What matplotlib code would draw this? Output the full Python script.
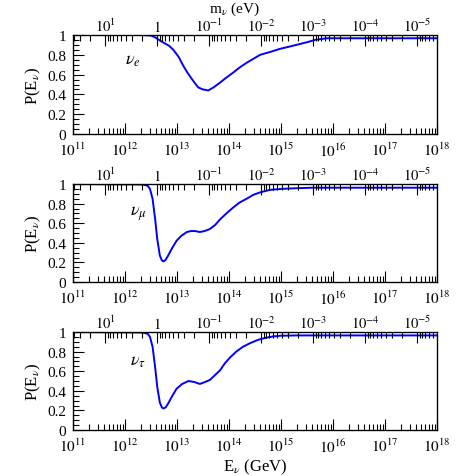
import numpy as np
import matplotlib
matplotlib.use("Agg")
import matplotlib.pyplot as plt
from matplotlib.ticker import FixedLocator, NullFormatter

plt.rcParams['font.family'] = ['Liberation Serif', 'DejaVu Serif']
plt.rcParams['mathtext.fontset'] = 'stix'

# log10(E / GeV) and survival probability for each flavour
loge_e = [11.0, 12.3, 12.5, 12.58, 12.67, 12.75, 12.85, 12.93, 13.03, 13.12, 13.2, 13.28,
          13.35, 13.41, 13.5, 13.6, 13.7, 13.83, 13.95, 14.08, 14.2, 14.34, 14.47, 14.6,
          14.8, 14.98, 15.18, 15.37, 15.52, 15.65, 15.78, 15.88, 18.0]
p_e = [1.0, 1.0, 0.995, 0.975, 0.945, 0.92, 0.89, 0.85, 0.78, 0.69, 0.62, 0.56,
       0.51, 0.47, 0.45, 0.44, 0.47, 0.52, 0.57, 0.62, 0.67, 0.72, 0.76, 0.80,
       0.83, 0.86, 0.885, 0.91, 0.93, 0.95, 0.96, 0.967, 0.967]

loge_mu = [11.0, 12.3, 12.38, 12.44, 12.48, 12.53, 12.58, 12.62, 12.67, 12.71, 12.74,
           12.78, 12.83, 12.9, 12.99, 13.08, 13.19, 13.27, 13.35, 13.44, 13.53, 13.63,
           13.73, 13.83, 13.95, 14.08, 14.2, 14.34, 14.47, 14.6, 14.79, 15.0, 15.3,
           15.6, 18.0]
p_mu = [1.0, 0.995, 0.99, 0.98, 0.95, 0.85, 0.64, 0.44, 0.27, 0.22, 0.21,
        0.225, 0.27, 0.34, 0.42, 0.47, 0.51, 0.52, 0.52, 0.51, 0.52, 0.54,
        0.58, 0.64, 0.70, 0.76, 0.81, 0.85, 0.89, 0.915, 0.94, 0.95, 0.957,
        0.962, 0.962]

loge_tau = [11.0, 12.3, 12.38, 12.44, 12.48, 12.53, 12.58, 12.62, 12.67, 12.71, 12.74,
            12.78, 12.83, 12.9, 12.99, 13.1, 13.22, 13.33, 13.44, 13.54, 13.63,
            13.73, 13.83, 13.92, 14.02, 14.14, 14.27, 14.4, 14.56, 14.7, 14.85,
            15.0, 15.3, 18.0]
p_tau = [1.0, 0.995, 0.99, 0.98, 0.95, 0.85, 0.64, 0.44, 0.28, 0.23, 0.22,
         0.23, 0.27, 0.34, 0.42, 0.47, 0.50, 0.49, 0.47, 0.49, 0.51,
         0.56, 0.61, 0.68, 0.74, 0.80, 0.85, 0.885, 0.92, 0.94, 0.955,
         0.962, 0.965, 0.965]

labels = [r'$\nu_e$', r'$\nu_\mu$', r'$\nu_\tau$']
label_pos = [(12.0, 0.71), (12.1, 0.69), (12.1, 0.67)]

e_ticks = [1e11, 1e12, 1e13, 1e14, 1e15, 1e16, 1e17, 1e18]
e_ticklabels = [r'$10^{11}$', r'$10^{12}$', r'$10^{13}$', r'$10^{14}$', r'$10^{15}$',
                r'$10^{16}$', r'$10^{17}$', r'$10^{18}$']
m_ticks = [1e1, 1.0, 1e-1, 1e-2, 1e-3, 1e-4, 1e-5]
m_ticklabels = [r'$10^{1}$', r'$1$', r'$10^{-1}$', r'$10^{-2}$', r'$10^{-3}$',
                r'$10^{-4}$', r'$10^{-5}$']
E_RES = 4.16e12  # GeV * eV : E_res = M_Z^2 / (2 m)

fig = plt.figure(figsize=(4.77, 4.77), dpi=100)
left, width = 73 / 477, 364 / 477
panels = [(36, 135), (185, 283), (333, 431)]
series = [(loge_e, p_e), (loge_mu, p_mu), (loge_tau, p_tau)]
fs = 11

for i, ((top, bot), (lx, py)) in enumerate(zip(panels, series)):
    ax = fig.add_axes([left, 1 - bot / 477, width, (bot - top) / 477])
    ax.plot(10 ** np.array(lx), py, color='#0000ff', lw=1.4)
    ax.set_xscale('log')
    ax.set_xlim(1e11, 1e18)
    ax.set_ylim(0, 1)
    ax.xaxis.set_major_locator(FixedLocator(e_ticks))
    ax.set_xticklabels(e_ticklabels)
    minors = [k * 10.0 ** n for n in range(11, 18) for k in range(2, 10)]
    ax.xaxis.set_minor_locator(FixedLocator(minors))
    ax.xaxis.set_minor_formatter(NullFormatter())
    ax.set_yticks([0, 0.2, 0.4, 0.6, 0.8, 1.0])
    ax.set_yticklabels(['0', '0.2', '0.4', '0.6', '0.8', '1'])
    ax.yaxis.set_minor_locator(FixedLocator(np.arange(0, 1.0001, 0.05)))
    ax.tick_params(which='both', direction='in', top=False, right=False,
                   labelsize=fs, width=0.8, colors='black')
    ax.tick_params(axis='x', which='major', length=8, pad=5)
    ax.tick_params(axis='y', which='major', length=8, pad=5)
    ax.tick_params(which='minor', length=4)
    for s in ax.spines.values():
        s.set_linewidth(0.9)
    ax.set_ylabel(r'P(E$_\nu$)', fontsize=fs + 1, labelpad=3)
    ax.text(10 ** label_pos[i][0], label_pos[i][1], labels[i], fontsize=fs + 2)

    tx = ax.twiny()
    tx.set_xscale('log')
    tx.set_xlim(1e11, 1e18)
    tx.xaxis.set_major_locator(FixedLocator([E_RES / m for m in m_ticks]))
    tx.set_xticklabels(m_ticklabels)
    mminor = [E_RES / (k * 10.0 ** n) for n in range(-6, 2) for k in range(2, 10)]
    mminor = [v for v in mminor if 1e11 <= v <= 1e18]
    tx.xaxis.set_minor_locator(FixedLocator(mminor))
    tx.xaxis.set_minor_formatter(NullFormatter())
    tx.tick_params(which='both', direction='in', labelsize=fs - 0.5, width=0.8)
    tx.tick_params(which='major', length=8, pad=1)
    tx.tick_params(which='minor', length=4)
    if i == 2:
        ax.set_xlabel(r'E$_\nu$ (GeV)', fontsize=fs + 1, labelpad=2)

fig.text(234 / 477, 1 - 0.5 / 477, r'm$_\nu$ (eV)', fontsize=fs,
         ha='center', va='top')

fig.savefig('out.png', dpi=100)
